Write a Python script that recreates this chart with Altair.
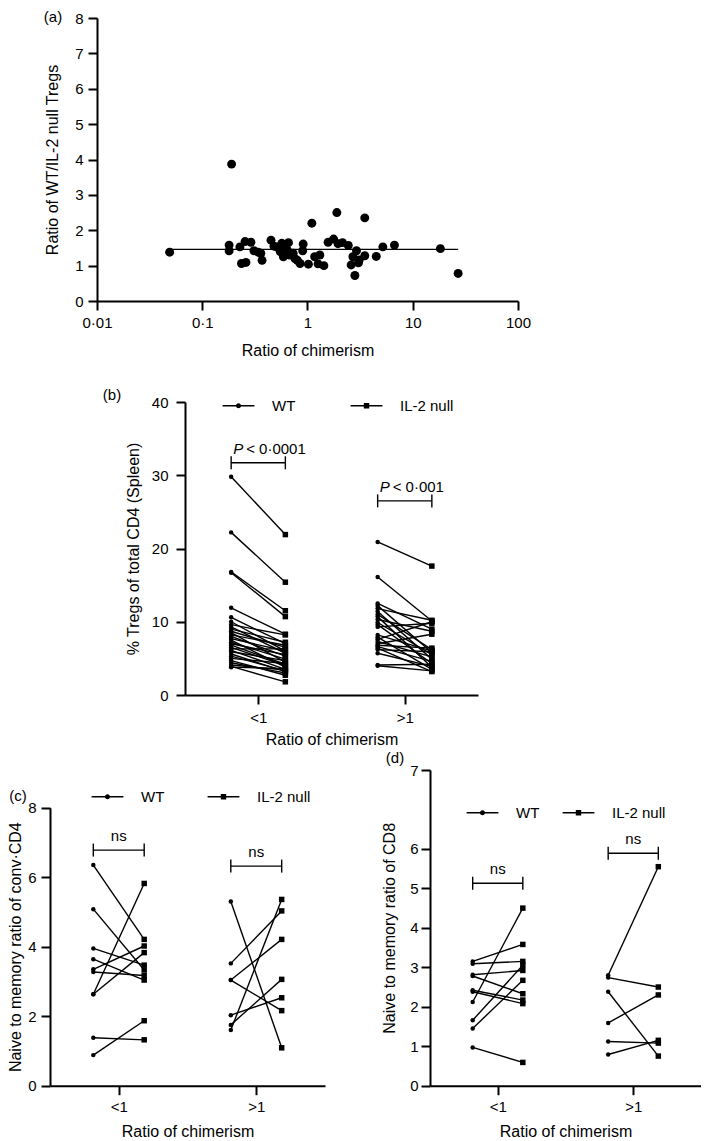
import json
import altair as alt
import pandas as pd

FONT = "Liberation Sans"
PAD_L, PAD_T, PAD_R, PAD_B = 8, 8, 2, 8
W, H = 683, 1117
OX = 8 + PAD_L   # page x of the view origin
OY = 8 + PAD_T   # page y of the view origin

# ---------------- data ----------------
# (a) ratio of chimerism vs ratio of WT/IL-2 null Tregs
a_chimerism = [0.049, 0.19, 0.18, 0.18, 0.228, 0.255, 0.29, 0.236, 0.26, 0.31, 0.36, 0.37, 0.34,
               0.45, 0.51, 0.55, 0.59, 0.57, 0.66, 0.64, 0.73, 0.76, 0.85, 0.91, 0.90, 1.02, 1.10,
               1.17, 1.31, 1.26, 1.43, 1.57, 1.77, 1.90, 1.95, 2.44, 2.92, 2.70, 2.60, 2.82, 3.10,
               3.50, 3.50, 3.05, 4.50, 5.20, 6.70, 18.3, 27.0, 0.48, 0.62, 0.80, 0.68, 2.15]
a_ratio = [1.38, 3.87, 1.58, 1.42, 1.53, 1.68, 1.66, 1.06, 1.09, 1.42, 1.35, 1.15, 1.38,
           1.72, 1.53, 1.40, 1.25, 1.63, 1.65, 1.45, 1.35, 1.20, 1.06, 1.61, 1.42, 1.04, 2.20,
           1.25, 1.30, 1.05, 1.00, 1.66, 1.75, 2.50, 1.62, 1.57, 1.42, 1.25, 1.02, 0.72, 1.16,
           2.35, 1.28, 1.08, 1.26, 1.53, 1.58, 1.48, 0.78, 1.55, 1.52, 1.15, 1.30, 1.65]
a_xtick_values = [0.01, 0.1, 1, 10, 100]

groups = ["<1", ">1"]
genotypes = ["WT", "IL-2 null"]

# (b) % Tregs of total CD4 (spleen), paired WT / IL-2 null
b_wt_lt = [29.8, 22.2, 16.8, 16.7, 11.9, 10.6, 10.0, 9.6, 9.3, 9.0, 8.7, 8.5, 8.2, 8.0, 7.7, 7.5,
           7.2, 7.0, 6.8, 6.5, 6.3, 6.1, 5.9, 5.6, 5.3, 5.0, 4.7, 4.4, 4.1, 3.9, 3.8]
b_il_lt = [21.9, 15.4, 11.5, 10.7, 8.3, 7.0, 6.0, 8.2, 5.7, 7.2, 6.5, 4.5, 6.8, 5.3, 6.0, 3.8,
           4.9, 5.5, 4.2, 4.0, 6.3, 3.5, 4.7, 3.2, 3.3, 4.3, 2.7, 3.0, 3.4, 1.8, 3.6]
b_wt_gt = [20.9, 16.1, 12.5, 12.2, 11.8, 11.4, 11.0, 10.7, 10.3, 9.9, 9.6, 9.3, 8.2, 7.9, 7.6, 7.3,
           7.0, 6.8, 6.6, 6.4, 6.2, 5.7, 4.1, 4.0]
b_il_gt = [17.6, 10.1, 9.0, 5.8, 10.2, 4.9, 6.2, 3.8, 8.7, 5.5, 4.3, 9.8, 6.0, 3.5, 10.0, 5.2,
           8.3, 6.4, 4.6, 3.2, 5.9, 3.9, 4.2, 3.3]

# (c) naive to memory ratio of conv CD4
c_wt_lt = [6.35, 5.08, 3.95, 3.64, 3.35, 3.27, 2.63, 2.63, 1.38, 0.88]
c_il_lt = [4.21, 3.33, 3.47, 3.04, 4.02, 3.17, 5.82, 3.83, 1.32, 1.87]
c_wt_gt = [5.30, 3.52, 3.04, 3.04, 2.03, 1.75, 1.60]
c_il_gt = [1.09, 5.03, 4.21, 2.16, 2.53, 3.06, 5.36]

# (d) naive to memory ratio of CD8
d_wt_lt = [3.15, 3.09, 2.81, 2.78, 2.42, 2.38, 2.12, 1.66, 1.45, 0.97]
d_il_lt = [3.58, 3.15, 2.92, 2.33, 2.17, 2.08, 4.50, 3.05, 2.67, 0.59]
d_wt_gt = [2.80, 2.74, 2.38, 1.59, 1.12, 0.79]
d_il_gt = [5.55, 2.50, 0.75, 2.30, 1.08, 1.15]

# y tick values / labels as printed on each axis
a_ytick_values = [0, 1, 2, 3, 4, 5, 6, 7, 8]
b_ytick_values = [0, 10, 20, 30, 40]
c_ytick_values = [0, 2, 4, 6, 8]
d_ytick_values = [0, 1, 2, 3, 4, 5, 6, 8]
d_ytick_labels = ["0", "1", "2", "3", "4", "5", "6", "7"]

# significance annotations
b_sig_text = ["< 0·0001", "< 0·001"]
b_sig_y = [31.7, 26.5]
c_sig_text = ["ns", "ns"]
c_sig_y = [6.78, 6.32]
d_sig_text = ["ns", "ns"]
d_sig_y = [5.13, 5.89]

panel_tags = ["(a)", "(b)", "(c)", "(d)"]

GPOS = [1, 3]
DODGE = 0.37

# legend glyphs: a short line with the marker in its middle (all filled shapes)
WT_PATH = ("M-5.3,-0.22H5.3V0.22H-5.3Z"
           "M0.85,0A0.85,0.85,0,1,1,-0.85,0A0.85,0.85,0,1,1,0.85,0Z")
IL_PATH = "M-5.3,-0.22H5.3V0.22H-5.3ZM-0.9,-0.9H0.9V0.9H-0.9Z"


def px(x):
    return x - OX


def py(y):
    return y - OY


def axis(**kw):
    return alt.Axis(grid=False, domainWidth=2, tickWidth=2, tickSize=9,
                    domainColor="black", tickColor="black", labelColor="black",
                    titleColor="black", labelFont=FONT, titleFont=FONT,
                    labelFontSize=15, titleFontSize=16, titleFontWeight="normal",
                    labelFlush=False, labelOverlap=False, **kw)


def paired_frame(wt_lt, il_lt, wt_gt, il_gt):
    rows = []
    for gi, (wt, il) in enumerate([(wt_lt, il_lt), (wt_gt, il_gt)]):
        for k, (w, v) in enumerate(zip(wt, il)):
            for gen, val in ((genotypes[0], w), (genotypes[1], v)):
                rows.append({"pair": f"{gi}_{k}", "group": groups[gi], "gpos": GPOS[gi],
                             "genotype": gen, "value": val})
    return pd.DataFrame(rows)


def paired_panel(df, xr, yr, ydom, yvals, ylabels, ytitle, ylabpad, ytitlepad, xlabpad,
                 xtitlepad, sig_y, sig_text, italic_p, legend_cx, legend_cy, colpad):
    xr = [px(v) for v in xr]
    yr = [py(v) for v in yr]
    xs = alt.Scale(domain=[0, 4], range=xr, nice=False, zero=False)
    ys = alt.Scale(domain=ydom, range=yr, nice=False, zero=False)
    xaxis = axis(orient="bottom", offset=yr[0] - H, values=GPOS,
                 labelExpr=f"{json.dumps(groups)}[(datum.value - 1) / 2]",
                 title="Ratio of chimerism", labelPadding=xlabpad, titlePadding=xtitlepad)
    yextra = {}
    if ylabels is not None:
        yextra["labelExpr"] = (f"{json.dumps(ylabels)}"
                               f"[indexof({json.dumps(yvals)}, datum.value)]")
    yaxis = axis(orient="left", offset=-xr[0], values=yvals, title=ytitle,
                 labelPadding=ylabpad, titlePadding=ytitlepad, **yextra)

    def X(f):
        return alt.X(f, scale=xs, axis=None)

    def Y(f):
        return alt.Y(f, scale=ys, axis=None)

    base = alt.Chart(df).transform_calculate(
        xpos=f"datum.gpos + (datum.genotype == '{genotypes[0]}' ? {-DODGE} : {DODGE})")
    lines = base.mark_line(color="black", strokeWidth=1.4).encode(
        x=alt.X("xpos:Q", scale=xs, axis=xaxis),
        y=alt.Y("value:Q", scale=ys, axis=yaxis),
        detail="pair:N")
    dots = base.transform_filter(f"datum.genotype == '{genotypes[0]}'").mark_circle(
        color="black", size=20, opacity=1).encode(x=X("xpos:Q"), y=Y("value:Q"))
    squares = base.transform_filter(f"datum.genotype != '{genotypes[0]}'").mark_square(
        color="black", size=30, opacity=1).encode(x=X("xpos:Q"), y=Y("value:Q"))

    bdf = pd.DataFrame({"gpos": GPOS, "yb": sig_y, "text": sig_text})
    bdf["x1"] = bdf["gpos"] - DODGE
    bdf["x2"] = bdf["gpos"] + DODGE
    brule = alt.Chart(bdf).mark_rule(color="black", strokeWidth=1.4).encode(
        x=X("x1:Q"), x2="x2:Q", y=Y("yb:Q"))
    ends = alt.Chart(bdf).transform_fold(["x1", "x2"], as_=["end", "xe"]).mark_tick(
        orient="vertical", size=13, thickness=1.4, color="black", opacity=1).encode(
        x=X("xe:Q"), y=Y("yb:Q"))
    out = [lines, dots, squares, brule, ends]
    if italic_p:
        p_mark = alt.Chart(bdf).mark_text(text="P", fontStyle="italic", font=FONT, fontSize=15,
                                          align="left", baseline="alphabetic", dx=2, dy=-9,
                                          color="black").encode(x=X("x1:Q"), y=Y("yb:Q"))
        rest = alt.Chart(bdf).mark_text(font=FONT, fontSize=15, align="left",
                                        baseline="alphabetic", dx=15, dy=-9,
                                        color="black").encode(
            x=X("x1:Q"), y=Y("yb:Q"), text="text:N")
        out += [p_mark, rest]
    else:
        ns = alt.Chart(bdf).mark_text(font=FONT, fontSize=15, align="center",
                                      baseline="alphabetic", dy=-9, color="black").encode(
            x=X("gpos:Q"), y=Y("yb:Q"), text="text:N")
        out.append(ns)

    legend_layer = alt.Chart(pd.DataFrame({"genotype": genotypes})).transform_filter(
        "false").mark_point(filled=True, color="black", opacity=1).encode(
        shape=alt.Shape("genotype:N",
                        scale=alt.Scale(domain=genotypes, range=[WT_PATH, IL_PATH]),
                        legend=alt.Legend(orient="none", legendX=px(legend_cx) - 7,
                                          legendY=py(legend_cy) - 8,
                                          direction="horizontal", title=None,
                                          labelFont=FONT, labelFontSize=15,
                                          labelColor="black", symbolSize=36,
                                          labelOffset=26, columnPadding=colpad,
                                          symbolStrokeWidth=0, symbolFillColor="black",
                                          padding=0)))
    out.append(legend_layer)
    return out


# ---------------- panel (a) ----------------
a_df = pd.DataFrame({"chimerism": a_chimerism, "ratio": a_ratio})
a_xr = [px(97), px(518)]
a_yr = [py(301), py(18)]
axs = alt.Scale(type="log", domain=[0.01, 100], range=a_xr, nice=False)
ays = alt.Scale(domain=[0, 8], range=a_yr, nice=False, zero=False)
a_points = alt.Chart(a_df).mark_circle(size=80, color="black", opacity=1).encode(
    x=alt.X("chimerism:Q", scale=axs,
            axis=axis(orient="bottom", offset=a_yr[0] - H, values=a_xtick_values,
                      format="~g", labelExpr="replace(datum.label, '.', '·')",
                      title="Ratio of chimerism", labelPadding=5, titlePadding=12)),
    y=alt.Y("ratio:Q", scale=ays,
            axis=axis(orient="left", offset=-a_xr[0], values=a_ytick_values,
                      title="Ratio of WT/IL-2 null Tregs", labelPadding=5, titlePadding=14)))
a_line = alt.Chart(a_df).transform_aggregate(
    xmin="min(chimerism)", xmax="max(chimerism)", ymean="mean(ratio)").mark_rule(
    color="black", strokeWidth=1.3).encode(
    x=alt.X("xmin:Q", scale=axs, axis=None), x2="xmax:Q",
    y=alt.Y("ymean:Q", scale=ays, axis=None))

layers = [a_line, a_points]

layers += paired_panel(paired_frame(b_wt_lt, b_il_lt, b_wt_gt, b_il_gt),
                       xr=[185, 478], yr=[695, 402], ydom=[0, 40], yvals=b_ytick_values,
                       ylabels=None, ytitle="% Tregs of total CD4 (Spleen)", ylabpad=8,
                       ytitlepad=10, xlabpad=6, xtitlepad=6, sig_y=b_sig_y,
                       sig_text=b_sig_text, italic_p=True, legend_cx=238, legend_cy=406,
                       colpad=54)
layers += paired_panel(paired_frame(c_wt_lt, c_il_lt, c_wt_gt, c_il_gt),
                       xr=[50, 325], yr=[1085.7, 807.7], ydom=[0, 8], yvals=c_ytick_values,
                       ylabels=None, ytitle="Naive to memory ratio of conv·CD4", ylabpad=5,
                       ytitlepad=4, xlabpad=5, xtitlepad=9, sig_y=c_sig_y,
                       sig_text=c_sig_text, italic_p=False, legend_cx=107, legend_cy=797,
                       colpad=42)
layers += paired_panel(paired_frame(d_wt_lt, d_il_lt, d_wt_gt, d_il_gt),
                       xr=[430, 701], yr=[1085.7, 770], ydom=[0, 8], yvals=d_ytick_values,
                       ylabels=d_ytick_labels, ytitle="Naive to memory ratio of CD8",
                       ylabpad=3, ytitlepad=12, xlabpad=5, xtitlepad=9, sig_y=d_sig_y,
                       sig_text=d_sig_text, italic_p=False, legend_cx=482, legend_cy=813,
                       colpad=22)

# panel tags (page positions of their centres)
tag_pos = [(53, 17), (112, 395), (18, 796), (395, 758)]
for tag, (tx, ty) in zip(panel_tags, tag_pos):
    layers.append(alt.Chart(pd.DataFrame({"tag": [tag]})).mark_text(
        font=FONT, fontSize=15, color="black", align="center", baseline="middle").encode(
        x=alt.value(px(tx)), y=alt.value(py(ty)), text="tag:N"))

chart = alt.layer(*layers).resolve_scale(
    x="independent", y="independent", shape="independent").resolve_legend(
    shape="independent").properties(
    width=W, height=H, autosize=alt.AutoSizeParams(type="none"),
    padding={"left": PAD_L, "top": PAD_T, "right": PAD_R, "bottom": PAD_B}).configure_view(
    stroke=None)

chart.save("out.html", embed_options={"renderer": "svg", "actions": False})
